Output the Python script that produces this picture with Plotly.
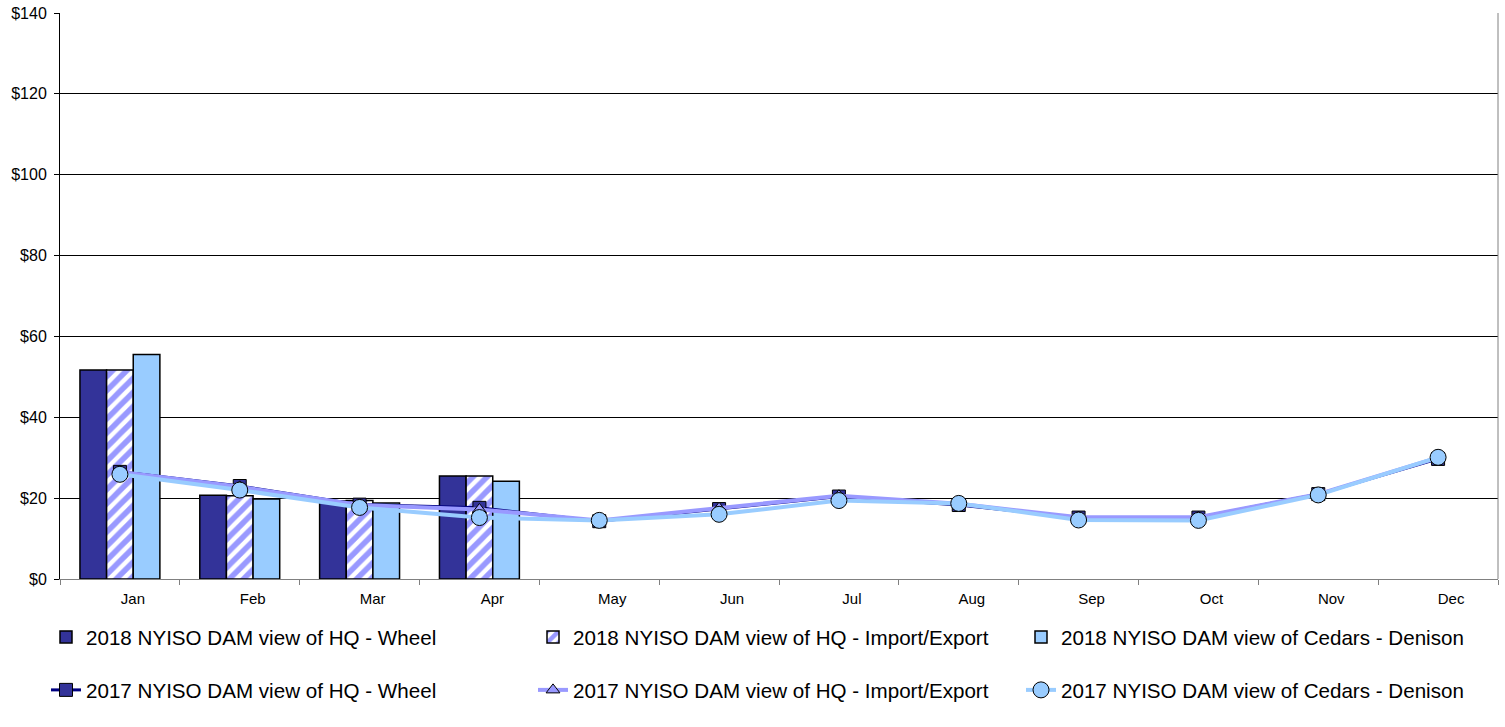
import plotly.graph_objects as go

months = ["Jan", "Feb", "Mar", "Apr", "May", "Jun", "Jul", "Aug", "Sep", "Oct", "Nov", "Dec"]
months_2018 = ["Jan", "Feb", "Mar", "Apr"]

wheel_2018 = [51.7, 20.7, 19.3, 25.5]
impexp_2018 = [51.7, 20.6, 19.4, 25.5]
cedars_2018 = [55.5, 19.8, 18.8, 24.2]

wheel_2017 = [26.5, 23.0, 18.4, 17.6, 14.3, 17.3, 20.4, 18.3, 15.2, 15.2, 21.0, 29.7]
impexp_2017 = [26.5, 22.8, 18.3, 17.2, 14.5, 17.5, 20.6, 18.6, 15.3, 15.3, 21.0, 30.0]
cedars_2017 = [25.9, 22.0, 17.7, 15.2, 14.5, 16.0, 19.4, 18.7, 14.6, 14.5, 20.8, 30.1]

names = [
    "2018 NYISO DAM view of HQ - Wheel",
    "2018 NYISO DAM view of HQ - Import/Export",
    "2018 NYISO DAM view of Cedars - Denison",
    "2017 NYISO DAM view of HQ - Wheel",
    "2017 NYISO DAM view of HQ - Import/Export",
    "2017 NYISO DAM view of Cedars - Denison",
]

FONT = "Arial, Liberation Sans, sans-serif"
fig = go.Figure()

fig.add_trace(go.Bar(x=months_2018, y=wheel_2018, name=names[0], legend="legend",
                     marker=dict(color="#333399", line=dict(color="black", width=1.5))))
fig.add_trace(go.Bar(x=months_2018, y=impexp_2018, name=names[1], legend="legend2",
                     marker=dict(color="white", line=dict(color="black", width=1.5),
                                 pattern=dict(shape="/", fgcolor="#9999FF", bgcolor="white",
                                              fgopacity=1, size=10, solidity=0.55))))
fig.add_trace(go.Bar(x=months_2018, y=cedars_2018, name=names[2], legend="legend3",
                     marker=dict(color="#99CCFF", line=dict(color="black", width=1.5))))

fig.add_trace(go.Scatter(x=months, y=wheel_2017, name=names[3], legend="legend4", mode="lines+markers",
                         line=dict(color="#000080", width=3),
                         marker=dict(symbol="square", size=13, color="#333399",
                                     line=dict(color="black", width=1))))
fig.add_trace(go.Scatter(x=months, y=impexp_2017, name=names[4], legend="legend5", mode="lines+markers",
                         line=dict(color="#9999FF", width=4),
                         marker=dict(symbol="triangle-up", size=12, color="#9999FF",
                                     line=dict(color="black", width=1))))
fig.add_trace(go.Scatter(x=months, y=cedars_2017, name=names[5], legend="legend6", mode="lines+markers",
                         line=dict(color="#99CCFF", width=4),
                         marker=dict(symbol="circle", size=16, color="#99CCFF",
                                     line=dict(color="black", width=1))))

W = 1438.0
def lx(px):
    return (px - 60) / W

H = 566.0
def ly(py):
    return (579 - py) / H

legend_common = dict(orientation="h", font=dict(family=FONT, size=20.6, color="black"),
                     bgcolor="rgba(0,0,0,0)", xanchor="left", yanchor="middle", itemwidth=30)

cols = [46, 533, 1021]
rows = [637, 690]
legend_defs = {}
keys = ["legend", "legend2", "legend3", "legend4", "legend5", "legend6"]
for i, k in enumerate(keys):
    legend_defs[k] = dict(legend_common, x=lx(cols[i % 3]), y=ly(rows[i // 3]))

fig.update_layout(
    width=1505, height=727,
    margin=dict(l=60, r=7, t=13, b=148, autoexpand=False),
    paper_bgcolor="white", plot_bgcolor="white",
    barmode="group", bargap=0.333, bargroupgap=0,
    font=dict(family=FONT, size=15, color="black"),
    showlegend=True,
    xaxis=dict(type="category", categoryorder="array", categoryarray=months,
               range=[-0.5, 11.5], showgrid=False, ticks="outside", tickson="boundaries",
               ticklen=5, tickcolor="#808080", showline=True, linecolor="#808080", linewidth=1,
               mirror=False, automargin=False, ticklabelshift=13, ticklabelstandoff=6,
               tickfont=dict(family=FONT, size=15)),
    yaxis=dict(range=[0, 140], dtick=20, tickprefix="$", showgrid=True, gridcolor="black",
               gridwidth=1, ticks="outside", ticklen=5, tickcolor="black", showline=True,
               linecolor="black", linewidth=1, zeroline=False, automargin=False,
               ticklabelstandoff=4, ticklabeloverflow="allow",
               tickfont=dict(family=FONT, size=16)),
    **legend_defs,
)

fig.add_shape(type="line", xref="paper", yref="paper", x0=1, x1=1, y0=0, y1=1,
              line=dict(color="#808080", width=1))

fig.write_html("out.html", config={"displayModeBar": False},
               post_script="document.body.style.margin='0';document.body.style.padding='0';")
